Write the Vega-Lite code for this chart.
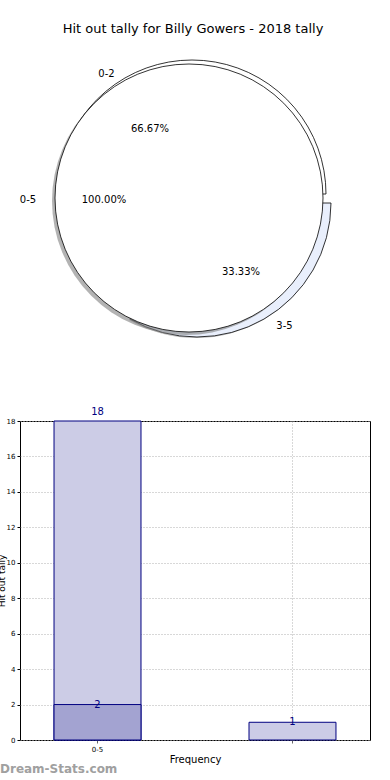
{
  "$schema": "https://vega.github.io/schema/vega-lite/v6.json",
  "background": "white",
  "padding": {"left": -4, "top": 23, "right": 0, "bottom": 0},
  "bounds": "flush",
  "spacing": 67,
  "config": {"font": "DejaVu Sans", "view": {"stroke": null}},
  "datasets": {
    "outer": [
      {"range": "3-5", "count": 1, "ord": 1, "pct": "33.33%"},
      {"range": "0-2", "count": 2, "ord": 2, "pct": "66.67%"}
    ],
    "inner": [
      {"range": "0-5", "count": 3, "ord": 1, "pct": "100.00%"}
    ],
    "bars": [
      {"cat": "0-5", "value": 18, "part": "all"},
      {"cat": "other", "value": 1, "part": "all"},
      {"cat": "0-5", "value": 2, "part": "sub"}
    ]
  },
  "vconcat": [
    {
      "width": 338,
      "height": 312,
      "view": {"stroke": null},
      "title": {"text": "Hit out tally for Billy Gowers - 2018 tally", "fontSize": 13, "fontWeight": "normal", "color": "black", "dx": 4, "offset": 6},
      "encoding": {
        "theta": {"field": "count", "type": "quantitative", "stack": true, "scale": {"range": [1.5708, 7.854]}},
        "order": {"field": "ord", "type": "quantitative"}
      },
      "layer": [
        {
          "data": {"name": "outer"},
          "mark": {"type": "arc", "outerRadius": 134, "fill": "#808080", "xOffset": 7, "yOffset": 6},
          "encoding": {"opacity": {"condition": {"test": "datum.range == '3-5'", "value": 0.5}, "value": 0}}
        },
        {
          "data": {"name": "outer"},
          "mark": {"type": "arc", "outerRadius": 134, "fill": "white", "stroke": "black", "strokeWidth": 0.8, "xOffset": 3, "yOffset": -4},
          "encoding": {"opacity": {"condition": {"test": "datum.range == '0-2'", "value": 1}, "value": 0}}
        },
        {
          "data": {"name": "outer"},
          "mark": {"type": "arc", "outerRadius": 134, "fill": "#e9effc", "stroke": "black", "strokeWidth": 0.8, "xOffset": 8, "yOffset": 5},
          "encoding": {"opacity": {"condition": {"test": "datum.range == '3-5'", "value": 1}, "value": 0}}
        },
        {
          "data": {"name": "inner"},
          "mark": {"type": "arc", "outerRadius": 134, "fill": "#808080", "opacity": 0.6, "xOffset": -3, "yOffset": 3}
        },
        {
          "data": {"name": "inner"},
          "mark": {"type": "arc", "outerRadius": 134, "fill": "white", "stroke": "black", "strokeWidth": 0.8}
        },
        {
          "data": {"name": "outer"},
          "mark": {"type": "text", "radius": 149, "fontSize": 10, "color": "black", "dx": -8, "dy": 5},
          "encoding": {"text": {"field": "range"}, "opacity": {"condition": {"test": "datum.range == '0-2'", "value": 1}, "value": 0}}
        },
        {
          "data": {"name": "outer"},
          "mark": {"type": "text", "radius": 80, "fontSize": 10, "color": "black", "dx": 1, "dy": 0},
          "encoding": {"text": {"field": "pct"}, "opacity": {"condition": {"test": "datum.range == '0-2'", "value": 1}, "value": 0}}
        },
        {
          "data": {"name": "outer"},
          "mark": {"type": "text", "radius": 149, "fontSize": 10, "color": "black", "dx": 21, "dy": -1},
          "encoding": {"text": {"field": "range"}, "opacity": {"condition": {"test": "datum.range == '3-5'", "value": 1}, "value": 0}}
        },
        {
          "data": {"name": "outer"},
          "mark": {"type": "text", "radius": 80, "fontSize": 10, "color": "black", "dx": 12, "dy": 5},
          "encoding": {"text": {"field": "pct"}, "opacity": {"condition": {"test": "datum.range == '3-5'", "value": 1}, "value": 0}}
        },
        {
          "data": {"name": "inner"},
          "mark": {"type": "text", "radius": 149, "fontSize": 10, "color": "black", "dx": -12, "dy": 2},
          "encoding": {"text": {"field": "range"}, "theta": {"datum": 1.5, "type": "quantitative"}}
        },
        {
          "data": {"name": "inner"},
          "mark": {"type": "text", "radius": 80, "fontSize": 10, "color": "black", "dx": -5, "dy": 2},
          "encoding": {"text": {"field": "pct"}, "theta": {"datum": 1.5, "type": "quantitative"}}
        }
      ]
    },
    {
      "width": 350,
      "height": 319,
      "view": {"stroke": "black", "strokeWidth": 1},
      "data": {"name": "bars"},
      "title": {"text": "Dream-Stats.com", "orient": "bottom", "anchor": "start", "frame": "group", "dx": -20, "offset": 0, "fontSize": 12, "fontWeight": "bold", "color": "#a0a0a0"},
      "encoding": {
        "x": {
          "field": "cat", "type": "nominal", "sort": ["0-5", "other"],
          "scale": {"paddingInner": 0.554, "paddingOuter": 0.1745},
          "axis": {
            "title": "Frequency", "titleFontSize": 10, "titleFontWeight": "normal", "titleColor": "black", "titlePadding": 2,
            "labelExpr": "datum.value == '0-5' ? datum.value : ''", "labelAngle": 0, "labelFontSize": 7, "labelColor": "black",
            "grid": true, "gridDash": [1, 2], "gridColor": "#b0b0b0", "gridWidth": 1,
            "tickSize": 3, "tickColor": "#666666", "domain": false
          }
        },
        "y": {
          "field": "value", "type": "quantitative", "stack": null,
          "scale": {"domain": [0, 18], "nice": false},
          "axis": {
            "title": "Hit out tally", "titleFontSize": 9, "titleFontWeight": "normal", "titleColor": "black", "titlePadding": 0,
            "values": [0, 2, 4, 6, 8, 10, 12, 14, 16, 18], "labelFontSize": 7, "labelColor": "black",
            "grid": true, "gridDash": [1, 2], "gridColor": "#b0b0b0", "gridWidth": 1,
            "tickSize": 3, "tickColor": "black", "domain": false
          }
        }
      },
      "layer": [
        {
          "transform": [{"filter": "datum.part == 'all'"}],
          "mark": {"type": "bar", "fill": "#ccccE6", "stroke": "#000080", "strokeWidth": 1}
        },
        {
          "transform": [{"filter": "datum.part == 'sub'"}],
          "mark": {"type": "bar", "fill": "#a3a3d1", "stroke": "#000080", "strokeWidth": 1}
        },
        {
          "transform": [{"filter": "datum.value < 18"}],
          "mark": {"type": "text", "fontSize": 10, "color": "#000080", "baseline": "middle"},
          "encoding": {"text": {"field": "value"}}
        },
        {
          "transform": [{"filter": "datum.value >= 18"}],
          "mark": {"type": "text", "fontSize": 10, "color": "#000080", "baseline": "bottom", "dy": -4},
          "encoding": {"text": {"field": "value"}}
        }
      ]
    }
  ]
}
